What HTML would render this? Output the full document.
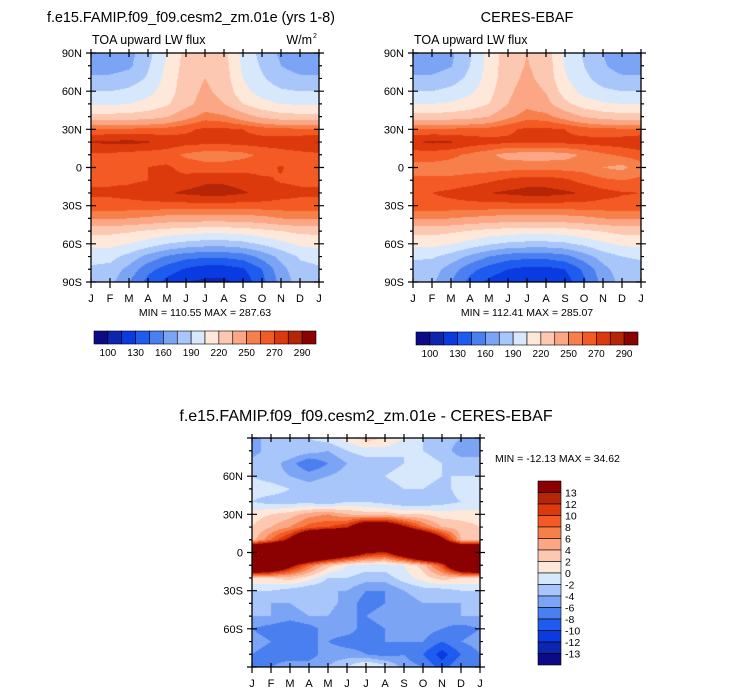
<!DOCTYPE html>
<html><head><meta charset="utf-8">
<style>
body{margin:0;background:#fff;width:733px;height:695px;overflow:hidden;font-family:"Liberation Sans",sans-serif;}
#root{position:relative;width:733px;height:695px;}
canvas{position:absolute;}
svg{position:absolute;left:0;top:0;}
</style></head>
<body>
<div id="root">
<canvas id="c1" width="228" height="229" style="left:91px;top:53px"></canvas>
<canvas id="c2" width="228" height="229" style="left:413px;top:53px"></canvas>
<canvas id="c3" width="228" height="229" style="left:252px;top:438px"></canvas>
<svg id="s" width="733" height="695"></svg>
</div>
<script>
const months=["J","F","M","A","M","J","J","A","S","O","N","D","J"];
const latLabels=["90N","60N","30N","0","30S","60S","90S"];
const absLevels=[100,115,130,145,160,175,190,205,220,235,250,260,270,280,290];
const absTickLabels=["100","130","160","190","220","250","270","290"];
const diffLevels=[-13,-12,-10,-8,-6,-4,-2,0,2,4,6,8,10,12,13];
const diffTickLabels=["-13","-12","-10","-8","-6","-4","-2","0","2","4","6","8","10","12","13"];
const colors=["#0b0b86","#0d26b0","#0a3be0","#1e5cf0","#4a7ff0","#7ca4f5","#a9c6fa","#d7e8fc","#fde8da","#fdc8b1","#fba786","#f77f4a","#f45a24","#dc3a0c","#b52508","#8b0000"];
// rows 90N..90S every 10 deg, cols Jan..Jan
const modelField=[
[165,165,170,185,205,225,232,225,200,185,172,165,165],
[168,168,172,188,208,226,233,226,202,188,175,168,168],
[178,178,182,192,210,228,235,228,205,192,182,178,178],
[190,190,193,200,213,228,238,230,210,198,192,190,190],
[203,203,205,210,218,230,242,235,220,210,205,203,203],
[225,225,226,228,234,245,255,252,242,232,226,225,225],
[262,262,262,263,264,268,272,272,270,265,263,262,262],
[281,282,283,281,277,274,273,273,274,275,276,278,281],
[268,268,266,265,264,258,255,255,257,262,265,267,268],
[266,265,265,270,272,266,264,264,266,266,271,265,266],
[268,268,268,270,272,274,278,278,276,272,269,268,268],
[272,272,274,277,279,282,284,284,281,278,274,272,272],
[266,266,266,266,266,266,266,266,266,266,266,266,266],
[252,252,250,248,245,243,243,243,244,246,250,252,252],
[224,224,222,218,214,212,210,210,212,216,220,224,224],
[210,210,205,198,190,185,182,182,185,192,200,208,210],
[195,195,185,170,158,150,148,148,152,165,180,192,195],
[188,185,170,150,138,128,122,122,128,145,170,185,188],
[185,180,160,140,125,115,112,112,120,140,165,183,185]];
const obsField=[
[165,165,172,188,210,228,235,228,202,188,175,165,165],
[168,168,174,190,211,229,236,229,204,190,177,168,168],
[178,178,183,194,212,230,238,230,207,194,183,178,178],
[190,190,194,202,215,232,242,234,213,200,193,190,190],
[205,205,207,212,220,235,246,240,224,212,207,205,205],
[226,226,227,229,235,247,256,254,244,234,228,226,226],
[262,262,262,263,264,268,272,272,270,265,263,262,262],
[279,282,281,276,274,272,273,273,273,274,275,276,279],
[265,265,262,258,252,246,244,244,246,252,258,262,265],
[256,256,256,256,255,256,257,257,256,256,250,247,256],
[262,262,262,264,268,272,275,275,272,266,262,260,262],
[270,270,273,277,280,282,284,284,282,279,274,271,270],
[266,266,266,266,266,266,266,266,266,266,266,266,266],
[252,252,250,248,246,244,244,244,245,247,250,252,252],
[225,225,223,219,215,213,211,211,213,217,221,225,225],
[210,210,206,199,192,187,185,185,187,194,202,208,210],
[192,192,184,172,160,152,150,150,155,168,182,190,192],
[185,182,168,150,138,130,125,125,130,148,170,183,185],
[182,178,160,140,126,118,114,114,122,142,165,180,182]];
const diffField=[
[-4,-4,-2,-2,-1,1,3,2,0,-2,-3,-4,-4],
[-5,-3,-2,-3,-4,-2,-1,-1,-2,-2,-3,-5,-5],
[-3,-3,-5,-8,-6,-4,-3,-3,-2,-1,-2,-3,-3],
[-2,-3,-4,-5,-4,-3,-2,-2,-1,-1,-2,-2,-2],
[-1,-1,-2,-3,-2,-2,-3,-3,-2,-2,-3,-1,-1],
[-2,-3,-3,-3,-4,-2,-2,-3,-4,-4,-3,-2,-2],
[1,2,3,5,6,4,3,3,2,2,1,1,1],
[2,4,6,9,10,12,20,20,14,8,4,3,2],
[3,8,14,25,30,30,30,30,30,25,15,4,3],
[30,30,30,30,25,20,14,12,20,30,30,30,30],
[30,25,15,8,3,0,-1,-1,0,3,10,25,30],
[2,2,3,1,-2,-2,-3,-3,-1,1,3,2,2],
[-2,-2,-3,-4,-4,-4,-6,-6,-4,-3,-3,-2,-2],
[-4,-4,-4,-3,-3,-5,-7,-6,-5,-4,-4,-4,-4],
[-4,-4,-5,-4,-4,-6,-6,-5,-4,-4,-5,-4,-4],
[-6,-7,-8,-7,-5,-5,-7,-6,-5,-5,-6,-7,-6],
[-5,-6,-7,-6,-6,-7,-7,-6,-6,-6,-8,-6,-5],
[-6,-7,-7,-7,-5,-5,-6,-7,-6,-8,-11,-8,-6],
[-6,-6,-5,-5,-4,-2,1,-1,-5,-6,-9,-6,-6]];

function hex(c){return [parseInt(c.substr(1,2),16),parseInt(c.substr(3,2),16),parseInt(c.substr(5,2),16)];}
const rgb=colors.map(hex);
function drawField(id,grid,levels){
  const cv=document.getElementById(id),ctx=cv.getContext('2d');
  const w=cv.width,h=cv.height,img=ctx.createImageData(w,h);
  const nr=grid.length-1,nc=grid[0].length-1;
  for(let y=0;y<h;y++){const r=(y+0.5)/h*nr,r0=Math.min(Math.floor(r),nr-1),fr=r-r0;
    for(let x=0;x<w;x++){const c=(x+0.5)/w*nc,c0=Math.min(Math.floor(c),nc-1),fc=c-c0;
      const v=(grid[r0][c0]*(1-fc)+grid[r0][c0+1]*fc)*(1-fr)+(grid[r0+1][c0]*(1-fc)+grid[r0+1][c0+1]*fc)*fr;
      let k=0;while(k<levels.length&&v>=levels[k])k++;
      const p=(y*w+x)*4,col=rgb[k];img.data[p]=col[0];img.data[p+1]=col[1];img.data[p+2]=col[2];img.data[p+3]=255;}}
  ctx.putImageData(img,0,0);
}
drawField('c1',modelField,absLevels);
drawField('c2',obsField,absLevels);
drawField('c3',diffField,diffLevels);

const S=document.getElementById('s'),NS='http://www.w3.org/2000/svg';
function el(t,a,txt){const e=document.createElementNS(NS,t);for(const k in a)e.setAttribute(k,a[k]);if(txt!==undefined)e.textContent=txt;S.appendChild(e);return e;}
function text(x,y,s,size,anchor,name){const e=el('text',{x:x,y:y,'font-size':size,'text-anchor':anchor||'start',fill:'#000','font-family':'Liberation Sans, sans-serif'},s);

return e;}
function axes(x0,y0,w,h,showPoles,prefix){
  const r=el('rect',{x:x0,y:y0,width:w,height:h,fill:'none',stroke:'#000','stroke-width':1.3});
  
  
  let d='';
  for(let i=0;i<=18;i++){const y=y0+i*h/18,maj=i%3==0,L=maj?5:3;
    d+=`M${x0-L},${y}H${x0+(maj?5:0)}M${x0+w+L},${y}H${x0+w-(maj?5:0)}`;}
  for(let i=0;i<=12;i++){const x=x0+i*w/12;d+=`M${x},${y0+h+6}V${y0+h-4}M${x},${y0-4}V${y0+4}`;}
  const t=el('path',{d:d,stroke:'#000','stroke-width':1.2,fill:'none'});
  
  
  latLabels.forEach((s,i)=>{if(!showPoles&&(i==0||i==6))return;
    text(x0-9,y0+i*h/6+4,s,11,'end',prefix+'-y-tick-label');});
  months.forEach((s,i)=>text(x0+i*w/12,y0+h+20,s,11,'middle',prefix+'-x-tick-label'));
}
function hbar(x0,y0,w,h,prefix){
  const bw=w/colors.length;
  colors.forEach((c,i)=>{const r=el('rect',{x:x0+i*bw,y:y0,width:bw,height:h,fill:c,stroke:'#000','stroke-width':0.6});
    
    });
  absTickLabels.forEach((s,i)=>text(x0+(2*i+1)*bw,y0+h+12,s,10,'middle',prefix+'-label'));
}
axes(91,53,228,229,true,'model');
axes(413,53,228,229,true,'obs');
axes(252,438,228,229,false,'diff');
const t1=text(47,22,'f.e15.FAMIP.f09_f09.cesm2_zm.01e (yrs 1-8)',14.5,'start','model-title');
t1.setAttribute('textLength','288');
text(527,22,'CERES-EBAF',14.5,'middle','obs-title');
text(92,44,'TOA upward LW flux',12.5,'start','model-subtitle');
text(414,44,'TOA upward LW flux',12.5,'start','obs-subtitle');
text(312,44,'W/m',12.5,'end','units-label');
text(313,38,'2',7,'start','units-exponent');
text(205,316,'MIN = 110.55 MAX = 287.63',10.5,'middle','model-minmax');
text(527,316,'MIN = 112.41 MAX = 285.07',10.5,'middle','obs-minmax');
hbar(94,331,222,13,'model-colorbar');
hbar(416,332,222,13,'obs-colorbar');
text(366,421,'f.e15.FAMIP.f09_f09.cesm2_zm.01e - CERES-EBAF',16,'middle','diff-title');
text(495,462,'MIN = -12.13 MAX =  34.62',10.5,'start','diff-minmax');
(function(){const x0=538,y0=481,w=23,h=184,bh=h/colors.length;
  for(let i=0;i<colors.length;i++){const c=colors[colors.length-1-i];
    const r=el('rect',{x:x0,y:y0+i*bh,width:w,height:bh,fill:c,stroke:'#000','stroke-width':0.6});
    
    }
  for(let i=0;i<diffTickLabels.length;i++){const s=diffTickLabels[diffTickLabels.length-1-i];
    text(x0+w+4,y0+(i+1)*bh+4,s,10.5,'start','diff-colorbar-label');}
})();
</script>
</body></html>
